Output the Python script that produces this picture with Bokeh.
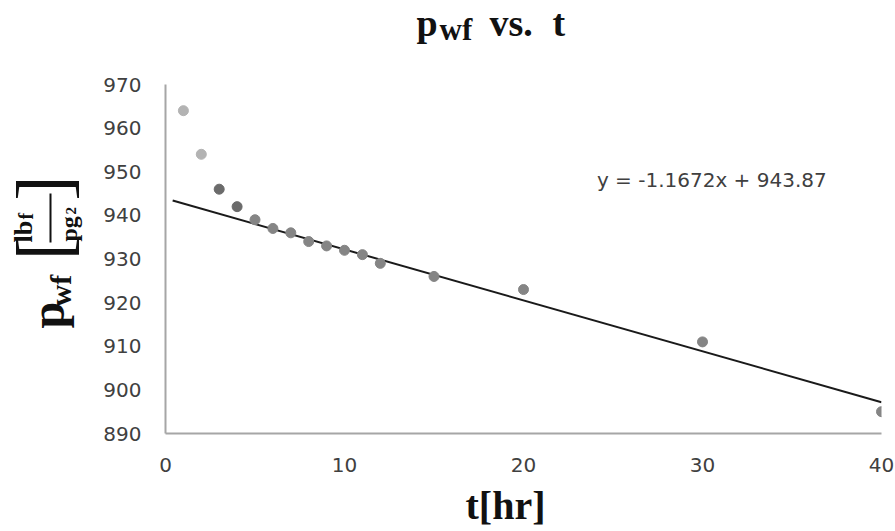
import numpy as np
from bokeh.plotting import figure
from bokeh.layouts import column, row
from bokeh.models import Label, BoxAnnotation, FixedTicker, ColumnDataSource, Range1d
from bokeh.embed import file_html
from bokeh.resources import INLINE

# ---- data ----
t_hr = [1, 2, 3, 4, 5, 6, 7, 8, 9, 10, 11, 12, 15, 20, 30, 40]
p_wf = [964, 954, 946, 942, 939, 937, 936, 934, 933, 932, 931, 929, 926, 923, 911, 895]
point_colors = ["#b3b3b3", "#b3b3b3", "#6b6b6b", "#6b6b6b"] + ["#858585"] * 12
trend_slope = -1.1672
trend_intercept = 943.87
trend_start = 0.4
x_ticks = [0, 10, 20, 30, 40]
y_ticks = [890, 900, 910, 920, 930, 940, 950, 960, 970]

# ---- layout constants (page pixels) ----
PW, PH = 895, 531
TITLE_H = 60          # title strip height
YLAB_W = 90           # y-label strip width
XLAB_Y = 482          # top of x-label strip
FL, FR, FT, FB = 165, 881, 84, 433  # frame edges of the main plot
XMIN, XMAX, YMIN, YMAX = 0, 40, 890, 970

serif = "Liberation Serif"
K_MID = 0.3375  # middle-of-em offset above baseline (Liberation Serif)


def text_fig(x0, w, h, y_top, y_bot):
    """Figure without axes; data coordinates equal page pixels inside its frame."""
    f = figure(width=w, height=h, output_backend="svg", toolbar_location=None,
               x_range=Range1d(x0, x0 + w), y_range=Range1d(y_bot, y_top),
               x_axis_type=None, y_axis_type=None, title=None,
               min_border=0, min_border_left=0, min_border_right=0,
               min_border_top=0, min_border_bottom=0)
    f.outline_line_color = None
    f.background_fill_color = "white"
    f.border_fill_color = "white"
    return f


def lab(f, text, px, py, size, angle=0.0, font=serif, style="bold", align="left",
        color="#111111"):
    """px, py: point on the text baseline (start / centre / end), page pixels."""
    if angle:
        px = px - K_MID * size
    else:
        py = py - K_MID * size
    f.add_layout(Label(x=px, y=py, text=text, angle=angle,
                       text_font=font, text_font_style=style,
                       text_font_size=f"{size}px", text_align=align,
                       text_baseline="middle", text_color=color))


# ---- title strip ----
tf = text_fig(0, PW, TITLE_H, 0, TITLE_H)
lab(tf, "p", 416, 35, 38)
lab(tf, "wf", 439, 39, 31)
lab(tf, "vs.", 489, 35, 38)
lab(tf, "t", 552, 35, 38)

# ---- y-label strip (its frame is aligned with the main plot frame) ----
yf = text_fig(0, YLAB_W, XLAB_Y - TITLE_H, FT, FB)
A = np.pi / 2
lab(yf, "p", 63, 328, 48, angle=A)
lab(yf, "wf", 70, 306, 30, angle=A)
lab(yf, "[", 68, 260, 76, angle=A, style="normal")
lab(yf, "]", 68, 175, 76, angle=A, style="normal", align="right")
lab(yf, "lb", 32, 242, 26, angle=A)
lab(yf, "f", 32, 219, 20, angle=A)
lab(yf, "pg", 77, 241, 24, angle=A)
lab(yf, "2", 76, 214, 15, angle=A)
yf.add_layout(BoxAnnotation(left=49, right=51, bottom=242, top=193,
                            fill_color="#111111", fill_alpha=1, line_alpha=0))

# ---- main plot ----
MW, MH = PW - YLAB_W, XLAB_Y - TITLE_H
p = figure(width=MW, height=MH, output_backend="svg", toolbar_location=None,
           x_range=(XMIN, XMAX), y_range=(YMIN, YMAX), title=None,
           min_border_left=FL - YLAB_W, min_border_right=PW - FR,
           min_border_top=FT - TITLE_H, min_border_bottom=XLAB_Y - FB)
p.outline_line_color = None
p.xgrid.visible = False
p.ygrid.visible = False
p.background_fill_color = "white"
p.border_fill_color = "white"

for ax in (p.xaxis[0], p.yaxis[0]):
    ax.axis_line_color = "#a6a6a6"
    ax.axis_line_width = 2
    ax.major_tick_out = 0
    ax.major_tick_in = 0
    ax.minor_tick_out = 0
    ax.minor_tick_in = 0
    ax.major_label_text_font = "DejaVu Sans"
    ax.major_label_text_font_size = "20px"
    ax.major_label_text_color = "#404040"
p.xaxis[0].ticker = FixedTicker(ticks=x_ticks)
p.yaxis[0].ticker = FixedTicker(ticks=y_ticks)
p.xaxis[0].major_label_standoff = 24
p.yaxis[0].major_label_standoff = 24

tx = np.array([trend_start, max(t_hr)])
p.line(tx, trend_slope * tx + trend_intercept, line_color="#1a1a1a", line_width=2)

src = ColumnDataSource(dict(t=t_hr, p=p_wf, c=point_colors))
p.scatter("t", "p", source=src, size=10, fill_color="c", line_color="c")

p.add_layout(Label(x=24.1, y=948.0, text="y = -1.1672x + 943.87",
                   text_font="DejaVu Sans", text_font_size="20px",
                   text_baseline="middle", text_color="#404040"))

# ---- x-label strip ----
xf = text_fig(0, PW, PH - XLAB_Y, XLAB_Y, PH)
lab(xf, "t[hr]", 505, 518, 40, align="center")

layout = column(tf, row(yf, p, spacing=0), xf, spacing=0)
open("out.html", "w").write(file_html(layout, INLINE))
